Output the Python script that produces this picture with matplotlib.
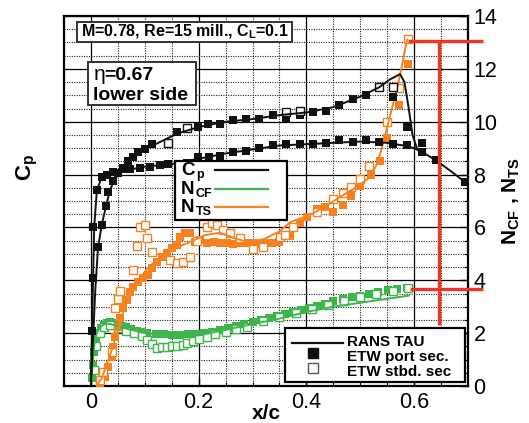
import matplotlib
matplotlib.use('Agg')
import matplotlib.pyplot as plt
from matplotlib.ticker import MultipleLocator, FuncFormatter
from matplotlib.patches import Rectangle
from matplotlib.lines import Line2D

plt.rcParams['font.family'] = ['Liberation Sans', 'DejaVu Sans']
plt.rcParams['mathtext.fontset'] = 'custom'
plt.rcParams['mathtext.rm'] = 'Liberation Sans'
plt.rcParams['mathtext.bf'] = 'Liberation Sans:bold'
plt.rcParams['mathtext.it'] = 'Liberation Sans:italic'

# ---------------- data ----------------
# Cp, RANS TAU (two curves)
cp_rans_a_x = [0.000, 0.002, 0.004, 0.006, 0.011, 0.020, 0.030, 0.050, 0.100, 0.150, 0.200, 0.250,
               0.300, 0.350, 0.400, 0.450, 0.500, 0.550, 0.580, 0.600, 0.615, 0.640, 0.670, 0.702]
cp_rans_a = [0.98, 0.58, 0.18, -0.20, -0.48, -0.58, -0.60, -0.62, -0.66, -0.68, -0.72, -0.76,
             -0.79, -0.82, -0.83, -0.84, -0.85, -0.84, -0.82, -0.80, -0.77, -0.71, -0.62, -0.52]
cp_rans_b_x = [0.000, 0.004, 0.008, 0.013, 0.020, 0.028, 0.035, 0.045, 0.060, 0.080, 0.100, 0.130,
               0.160, 0.200, 0.250, 0.300, 0.350, 0.400, 0.450, 0.500, 0.535, 0.555, 0.574, 0.582,
               0.590, 0.597, 0.605, 0.615]
cp_rans_b = [1.00, 0.64, 0.28, -0.04, -0.22, -0.36, -0.48, -0.57, -0.65, -0.73, -0.79, -0.85,
             -0.91, -0.96, -1.00, -1.02, -1.05, -1.07, -1.11, -1.19, -1.26, -1.32, -1.36, -1.30,
             -1.10, -0.90, -0.80, -0.77]
# Cp, ETW port section (filled squares)
cp_port_x = [0.002, 0.004, 0.004, 0.011, 0.020, 0.030, 0.041, 0.059, 0.072, 0.091, 0.110, 0.128,
             0.143, 0.178, 0.199, 0.219, 0.240, 0.264, 0.288, 0.312, 0.338, 0.362, 0.388, 0.413,
             0.437, 0.461, 0.487, 0.511, 0.535, 0.561, 0.586, 0.615, 0.615, 0.641, 0.695,
             0.013, 0.020, 0.028, 0.032, 0.041, 0.050, 0.059, 0.069, 0.078, 0.087, 0.100, 0.113,
             0.160, 0.199, 0.217, 0.240, 0.264, 0.288, 0.312, 0.338, 0.362, 0.388, 0.413, 0.437,
             0.461, 0.487, 0.511, 0.561, 0.586]
cp_port = [0.58, 0.18, -0.20, -0.48, -0.58, -0.60, -0.62, -0.64, -0.64, -0.65, -0.66, -0.67,
           -0.68, -0.69, -0.73, -0.73, -0.74, -0.77, -0.78, -0.80, -0.82, -0.83, -0.83, -0.83,
           -0.84, -0.86, -0.85, -0.86, -0.85, -0.83, -0.82, -0.84, -0.77, -0.71, -0.54,
           -0.05, -0.22, -0.36, -0.47, -0.55, -0.61, -0.65, -0.70, -0.73, -0.77, -0.79, -0.83,
           -0.92, -0.96, -0.98, -0.98, -1.01, -1.02, -1.02, -1.05, -1.03, -1.05, -1.07, -1.08,
           -1.13, -1.17, -1.20, -1.19, -0.96]
# Cp, ETW starboard section (open squares)
cp_stbd_x = [0.143, 0.178, 0.362, 0.388, 0.535, 0.561]
cp_stbd = [-0.84, -0.95, -1.07, -1.08, -1.26, -1.26]

# N_CF
ncf_rans_x = [0.000, 0.003, 0.006, 0.010, 0.016, 0.024, 0.032, 0.045, 0.060, 0.080, 0.100, 0.130,
              0.160, 0.200, 0.240, 0.290, 0.350, 0.400, 0.450, 0.500, 0.550, 0.590]
ncf_rans = [0.00, 0.80, 1.50, 1.95, 2.20, 2.33, 2.36, 2.30, 2.20, 2.10, 2.00, 1.93,
            1.90, 1.92, 2.08, 2.30, 2.55, 2.80, 3.00, 3.15, 3.30, 3.42]
ncf_port_x = [0.002, 0.004, 0.006, 0.009, 0.013, 0.018, 0.024, 0.030, 0.036, 0.042, 0.050, 0.058,
              0.066, 0.075, 0.085, 0.095, 0.105, 0.120, 0.135, 0.150, 0.165, 0.180, 0.195, 0.210,
              0.225, 0.240, 0.255, 0.270, 0.285, 0.300, 0.315, 0.330, 0.345, 0.360, 0.375, 0.390,
              0.405, 0.420, 0.435, 0.450, 0.468, 0.485, 0.500, 0.517, 0.533, 0.552, 0.569, 0.587]
ncf_port = [0.30, 0.80, 1.30, 1.70, 2.00, 2.20, 2.32, 2.40, 2.42, 2.40, 2.35, 2.28,
            2.22, 2.16, 2.10, 2.05, 2.00, 1.97, 1.95, 1.94, 1.94, 1.95, 1.97, 2.00,
            2.05, 2.12, 2.20, 2.28, 2.36, 2.43, 2.50, 2.57, 2.64, 2.72, 2.80, 2.88,
            2.96, 3.04, 3.12, 3.22, 3.30, 3.37, 3.42, 3.48, 3.56, 3.62, 3.67, 3.71]
ncf_stbd_x = [0.005, 0.010, 0.016, 0.024, 0.035, 0.050, 0.065, 0.080, 0.095, 0.105, 0.113, 0.123,
              0.132, 0.141, 0.150, 0.160, 0.170, 0.178, 0.190, 0.200, 0.215, 0.230, 0.250, 0.270,
              0.290, 0.320, 0.350, 0.380, 0.410, 0.440, 0.470, 0.500, 0.530, 0.560, 0.589]
ncf_stbd = [0.60, 1.50, 2.00, 2.25, 2.30, 2.20, 2.10, 2.00, 1.90, 1.75, 1.60, 1.44,
            1.46, 1.48, 1.50, 1.52, 1.57, 1.63, 1.70, 1.78, 1.87, 1.95, 2.05, 2.15,
            2.25, 2.45, 2.60, 2.75, 2.90, 3.05, 3.20, 3.35, 3.48, 3.60, 3.70]

# N_TS
nts_rans_x = [0.010, 0.020, 0.030, 0.040, 0.050, 0.060, 0.075, 0.090, 0.105, 0.130, 0.160, 0.190,
              0.210, 0.240, 0.265, 0.290, 0.320, 0.350, 0.370, 0.407, 0.431, 0.463, 0.494, 0.519,
              0.532, 0.540, 0.555, 0.570, 0.587]
nts_rans = [0.00, 0.30, 0.85, 1.45, 2.10, 2.85, 3.55, 4.05, 4.45, 4.90, 5.25, 5.50,
            5.70, 5.80, 5.60, 5.45, 5.55, 5.85, 6.20, 6.48, 6.74, 7.16, 7.54, 7.92,
            8.45, 9.00, 10.20, 11.40, 13.10]
nts_port_x = [0.017, 0.026, 0.032, 0.039, 0.041, 0.045, 0.050, 0.054, 0.060, 0.067, 0.072, 0.078,
              0.087, 0.097, 0.106, 0.113, 0.123, 0.132, 0.141, 0.150, 0.160, 0.165, 0.175, 0.184,
              0.193, 0.203, 0.215, 0.228, 0.240, 0.252, 0.264, 0.276, 0.288, 0.300, 0.312, 0.324,
              0.336, 0.350, 0.370, 0.388, 0.401, 0.420, 0.435, 0.450, 0.468, 0.483, 0.500, 0.519,
              0.537, 0.550, 0.571, 0.589]
nts_port = [0.04, 0.33, 0.72, 1.10, 1.48, 1.86, 2.23, 2.58, 2.95, 3.26, 3.56, 3.75,
            3.94, 4.09, 4.20, 4.47, 4.70, 4.89, 5.04, 5.23, 5.34, 5.64, 5.80, 5.80,
            5.45, 5.53, 5.42, 5.45, 5.42, 5.40, 5.38, 5.40, 5.42, 5.40, 5.38, 5.40,
            5.42, 5.45, 5.68, 6.17, 6.40, 6.70, 6.78, 6.59, 6.86, 7.20, 7.58, 7.99,
            8.52, 9.39, 10.64, 12.20]
nts_stbd_x = [0.017, 0.022, 0.039, 0.045, 0.050, 0.054, 0.078, 0.085, 0.091, 0.100, 0.104, 0.113,
              0.147, 0.160, 0.171, 0.184, 0.197, 0.216, 0.225, 0.234, 0.245, 0.258, 0.277, 0.300,
              0.319, 0.351, 0.360, 0.375, 0.420, 0.450, 0.468, 0.483, 0.500, 0.517, 0.550, 0.571,
              0.589]
nts_stbd = [0.23, 0.53, 1.29, 2.95, 3.30, 3.60, 4.40, 5.30, 6.00, 6.10, 5.60, 5.07,
            4.77, 4.66, 4.70, 4.90, 5.50, 6.00, 6.17, 6.10, 5.90, 5.80, 5.60, 5.20,
            5.27, 5.65, 5.70, 6.02, 6.59, 7.08, 7.31, 7.54, 7.84, 8.33, 10.00, 11.29,
            13.14]

# red transition markers (x/c, N)
red_h_levels = [13.07, 3.67]
red_h_start = [0.589, 0.593]
red_v_x = 0.647
red_end_x = 0.727
red_v_bottom = 2.3

xticks = [0, 0.2, 0.4, 0.6]
nticks = [0, 2, 4, 6, 8, 10, 12, 14]

# ---------------- style ----------------
BLACK = '#111111'
GREEN = '#3cb54a'
ORANGE = '#f5821f'
RED = '#ee3524'
W, H = 529, 423
L, R, T, B = 64, 468, 16, 386

fig = plt.figure(figsize=(W / 100, H / 100), dpi=100)
ax = fig.add_axes([L / W, 1 - B / H, (R - L) / W, (B - T) / H])
ax.set_xlim(-0.05, 0.70)
ax.set_ylim(0, 14)
ax.set_xticks(xticks)
ax.set_yticks(nticks)
ax.xaxis.set_minor_locator(MultipleLocator(0.05))
ax.yaxis.set_minor_locator(MultipleLocator(0.5))
ax.xaxis.set_major_formatter(FuncFormatter(lambda v, _: f'{v:g}'))
ax.set_axisbelow(True)
ax.grid(which='major', color='black', lw=0.9)
ax.grid(which='minor', color='#222222', lw=0.8, ls=(0, (1, 1.2)))
ax.yaxis.tick_right()
ax.tick_params(which='both', direction='in', top=False, left=False, right=True, bottom=True)
ax.tick_params(which='major', length=6, width=1.0, labelsize=15.5, pad=4)
ax.tick_params(which='minor', length=3, width=0.8)
for s in ax.spines.values():
    s.set_linewidth(1.6)

ms = 5.5
# N_CF
ax.plot(ncf_port_x, ncf_port, 's', color=GREEN, ms=ms, mew=0, zorder=3)
ax.plot(ncf_stbd_x, ncf_stbd, 's', mfc='white', mec=GREEN, ms=ms, mew=1.0, zorder=3)
ax.plot(ncf_rans_x, ncf_rans, '-', color=GREEN, lw=1.4, zorder=4)
# N_TS
ax.plot(nts_port_x, nts_port, 's', color=ORANGE, ms=ms, mew=0, zorder=3)
ax.plot(nts_stbd_x, nts_stbd, 's', mfc='white', mec=ORANGE, ms=ms, mew=1.0, zorder=3)
ax.plot(nts_rans_x, nts_rans, '-', color=ORANGE, lw=1.4, zorder=4)

# Cp axis (hidden scale)
cax = fig.add_axes(ax.get_position(), sharex=ax)
cax.set_ylim(1.0, -1.8)
cax.axis('off')
cax.patch.set_visible(False)
cax.plot(cp_port_x, cp_port, 's', color=BLACK, ms=ms, mew=0, zorder=3)
cax.plot(cp_stbd_x, cp_stbd, 's', mfc='white', mec=BLACK, ms=ms, mew=1.0, zorder=3)
cax.plot(cp_rans_a_x, cp_rans_a, '-', color=BLACK, lw=1.4, zorder=4)
cax.plot(cp_rans_b_x, cp_rans_b, '-', color=BLACK, lw=1.4, zorder=4)

# red lines (in N coordinates)
for lvl, x0 in zip(red_h_levels, red_h_start):
    cax.plot([x0, red_end_x], [lvl, lvl], color=RED, lw=2.4, transform=ax.transData,
             clip_on=False, zorder=6, solid_capstyle='butt')
cax.plot([red_v_x, red_v_x], [red_h_levels[0], red_v_bottom], color=RED, lw=2.4,
         transform=ax.transData, clip_on=False, zorder=6, solid_capstyle='butt')


def P(px, py):
    return ((px - L) / (R - L), (B - py) / (B - T))


def box(x0, y0, x1, y1, lw=1.4, ec='black'):
    a = P(x0, y1)
    b = P(x1, y0)
    cax.add_patch(Rectangle(a, b[0] - a[0], b[1] - a[1], transform=cax.transAxes,
                            fc='white', ec=ec, lw=lw, zorder=10, clip_on=False))


def txt(px, py, s, **kw):
    x, y = P(px, py)
    cax.text(x, y, s, transform=cax.transAxes, zorder=11, **kw)


def hline(x0, x1, py, color):
    a = P(x0, py)
    b = P(x1, py)
    cax.add_line(Line2D([a[0], b[0]], [a[1], b[1]], transform=cax.transAxes, color=color,
                        lw=1.6, zorder=11))


def mark(px, py, filled):
    x, y = P(px, py)
    cax.add_line(Line2D([x], [y], transform=cax.transAxes, marker='s', ms=6.5,
                        mfc=BLACK if filled else 'white', mec=BLACK if filled else '#555555',
                        mew=1.0, ls='none', zorder=11))


# condition box
box(77, 22, 292, 42, ec='#333333')
txt(81, 36, r'M=0.78, Re=15 mill., C$_\mathbf{L}$=0.1', fontsize=11.5, fontweight='bold',
    va='baseline', ha='left')
# eta box
box(88, 62, 196, 105, ec='#333333')
txt(93, 80, r'$\mathrm{\eta}$', fontsize=15, va='baseline', ha='left')
txt(104, 80, '=0.67', fontsize=14, fontweight='bold', va='baseline', ha='left')
txt(93, 100, 'lower side', fontsize=14, fontweight='bold', va='baseline', ha='left')

# legend 1 (main letter + separate small subscript to keep rows compact)
box(175, 161, 287, 220, lw=1.6)
leg1_rows = [('C', 'p', 175, BLACK), ('N', 'CF', 194, GREEN), ('N', 'TS', 212, ORANGE)]
for big, small, base, col in leg1_rows:
    txt(181, base, big, fontsize=13.5, fontweight='bold', va='baseline', ha='left')
    txt(196, base + 3, small, fontsize=9, fontweight='bold', va='baseline', ha='left')
    hline(215, 268, base - 5, col)

# legend 2
box(285, 328, 465, 382, lw=1.6)
hline(292, 343, 343, BLACK)
mark(313, 353, True)
mark(313, 368, False)
txt(347, 346, 'RANS TAU', fontsize=11, fontweight='bold', va='baseline', ha='left')
txt(347, 361, 'ETW port sec.', fontsize=11, fontweight='bold', va='baseline', ha='left')
txt(347, 376, 'ETW stbd. sec', fontsize=11, fontweight='bold', va='baseline', ha='left')

# axis labels
fig.text(266 / W, 1 - 419 / H, 'x/c', fontsize=15, fontweight='bold', ha='center', va='baseline')
fig.text(27 / W, 1 - 167 / H, r'$\mathbf{C_p}$', fontsize=16, rotation=90, ha='center', va='center')
fig.text(511 / W, 1 - 201 / H, r'$\mathbf{N_{CF}}$ , $\mathbf{N_{TS}}$', fontsize=15,
         fontweight='bold', rotation=90, ha='center', va='center')

fig.savefig('out.png', dpi=100)
